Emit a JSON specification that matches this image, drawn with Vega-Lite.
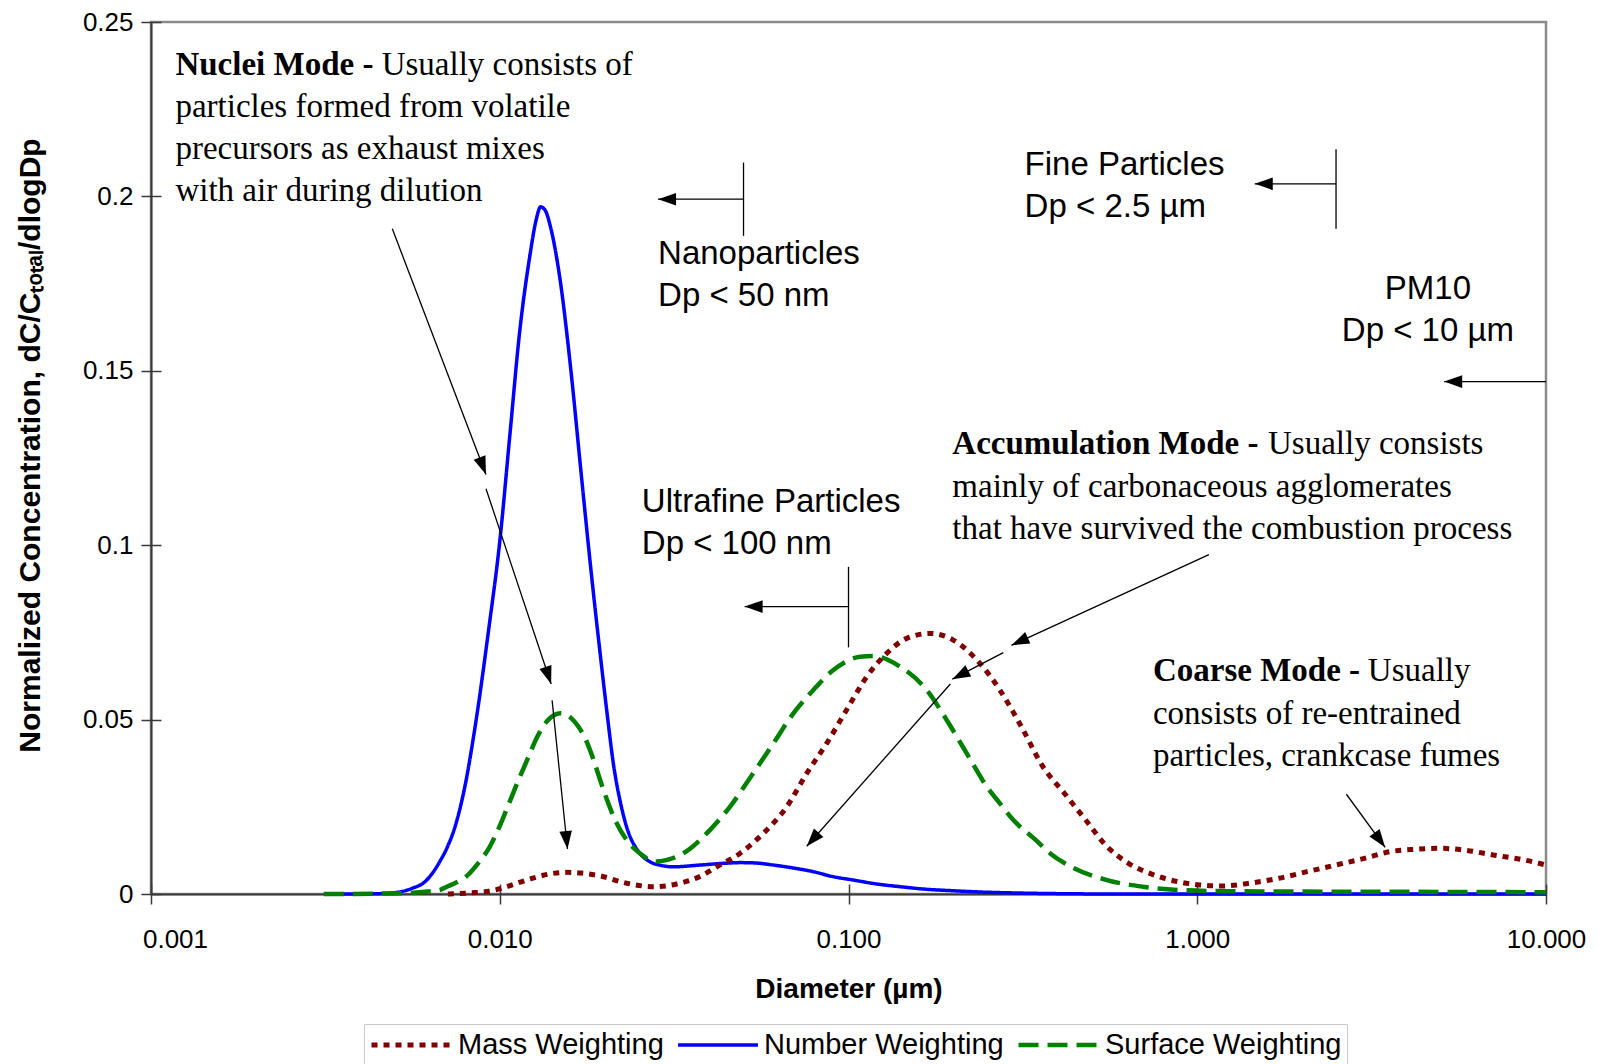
{
  "$schema": "https://vega.github.io/schema/vega-lite/v6.json",
  "width": 1395,
  "height": 872,
  "autosize": {"type": "none"},
  "padding": {"left": 151, "top": 22, "right": 51, "bottom": 170},
  "background": "white",
  "datasets": {
    "curves": [
      {"diameter": 0.00313, "conc": 0, "weighting": "Number Weighting"},
      {"diameter": 0.0045, "conc": 0.0001, "weighting": "Number Weighting"},
      {"diameter": 0.0051, "conc": 0.0005, "weighting": "Number Weighting"},
      {"diameter": 0.0056, "conc": 0.0016, "weighting": "Number Weighting"},
      {"diameter": 0.0061, "conc": 0.0035, "weighting": "Number Weighting"},
      {"diameter": 0.00675, "conc": 0.0095, "weighting": "Number Weighting"},
      {"diameter": 0.0071, "conc": 0.0138, "weighting": "Number Weighting"},
      {"diameter": 0.00746, "conc": 0.0196, "weighting": "Number Weighting"},
      {"diameter": 0.00795, "conc": 0.031, "weighting": "Number Weighting"},
      {"diameter": 0.00847, "conc": 0.047, "weighting": "Number Weighting"},
      {"diameter": 0.0093, "conc": 0.076, "weighting": "Number Weighting"},
      {"diameter": 0.01, "conc": 0.101, "weighting": "Number Weighting"},
      {"diameter": 0.0107, "conc": 0.132, "weighting": "Number Weighting"},
      {"diameter": 0.0114, "conc": 0.161, "weighting": "Number Weighting"},
      {"diameter": 0.0122, "conc": 0.183, "weighting": "Number Weighting"},
      {"diameter": 0.0127, "conc": 0.193, "weighting": "Number Weighting"},
      {"diameter": 0.0131, "conc": 0.197, "weighting": "Number Weighting"},
      {"diameter": 0.0135, "conc": 0.196, "weighting": "Number Weighting"},
      {"diameter": 0.014, "conc": 0.191, "weighting": "Number Weighting"},
      {"diameter": 0.0149, "conc": 0.176, "weighting": "Number Weighting"},
      {"diameter": 0.016, "conc": 0.15, "weighting": "Number Weighting"},
      {"diameter": 0.0171, "conc": 0.121, "weighting": "Number Weighting"},
      {"diameter": 0.0183, "conc": 0.092, "weighting": "Number Weighting"},
      {"diameter": 0.0194, "conc": 0.069, "weighting": "Number Weighting"},
      {"diameter": 0.0203, "conc": 0.052, "weighting": "Number Weighting"},
      {"diameter": 0.0212, "conc": 0.037, "weighting": "Number Weighting"},
      {"diameter": 0.0221, "conc": 0.027, "weighting": "Number Weighting"},
      {"diameter": 0.0231, "conc": 0.0193, "weighting": "Number Weighting"},
      {"diameter": 0.0252, "conc": 0.0117, "weighting": "Number Weighting"},
      {"diameter": 0.027, "conc": 0.0092, "weighting": "Number Weighting"},
      {"diameter": 0.029, "conc": 0.0082, "weighting": "Number Weighting"},
      {"diameter": 0.0315, "conc": 0.0078, "weighting": "Number Weighting"},
      {"diameter": 0.0375, "conc": 0.0083, "weighting": "Number Weighting"},
      {"diameter": 0.044, "conc": 0.0088, "weighting": "Number Weighting"},
      {"diameter": 0.0489, "conc": 0.009, "weighting": "Number Weighting"},
      {"diameter": 0.054, "conc": 0.0089, "weighting": "Number Weighting"},
      {"diameter": 0.0609, "conc": 0.0083, "weighting": "Number Weighting"},
      {"diameter": 0.07, "conc": 0.0074, "weighting": "Number Weighting"},
      {"diameter": 0.0793, "conc": 0.0064, "weighting": "Number Weighting"},
      {"diameter": 0.09, "conc": 0.005, "weighting": "Number Weighting"},
      {"diameter": 0.1032, "conc": 0.004, "weighting": "Number Weighting"},
      {"diameter": 0.12, "conc": 0.0029, "weighting": "Number Weighting"},
      {"diameter": 0.1405, "conc": 0.0021, "weighting": "Number Weighting"},
      {"diameter": 0.165, "conc": 0.0014, "weighting": "Number Weighting"},
      {"diameter": 0.198, "conc": 0.00095, "weighting": "Number Weighting"},
      {"diameter": 0.25, "conc": 0.0005, "weighting": "Number Weighting"},
      {"diameter": 0.3, "conc": 0.0003, "weighting": "Number Weighting"},
      {"diameter": 0.4, "conc": 0.0001, "weighting": "Number Weighting"},
      {"diameter": 0.6, "conc": 0, "weighting": "Number Weighting"},
      {"diameter": 10, "conc": 0, "weighting": "Number Weighting"},

      {"diameter": 0.00313, "conc": 0, "weighting": "Surface Weighting"},
      {"diameter": 0.0045, "conc": 0.0001, "weighting": "Surface Weighting"},
      {"diameter": 0.0055, "conc": 0.0003, "weighting": "Surface Weighting"},
      {"diameter": 0.0062, "conc": 0.0007, "weighting": "Surface Weighting"},
      {"diameter": 0.00675, "conc": 0.0012, "weighting": "Surface Weighting"},
      {"diameter": 0.0071, "conc": 0.0022, "weighting": "Surface Weighting"},
      {"diameter": 0.0075, "conc": 0.0033, "weighting": "Surface Weighting"},
      {"diameter": 0.00805, "conc": 0.0052, "weighting": "Surface Weighting"},
      {"diameter": 0.0087, "conc": 0.009, "weighting": "Surface Weighting"},
      {"diameter": 0.00937, "conc": 0.0136, "weighting": "Surface Weighting"},
      {"diameter": 0.01, "conc": 0.0195, "weighting": "Surface Weighting"},
      {"diameter": 0.01063, "conc": 0.026, "weighting": "Surface Weighting"},
      {"diameter": 0.0113, "conc": 0.0325, "weighting": "Surface Weighting"},
      {"diameter": 0.01205, "conc": 0.039, "weighting": "Surface Weighting"},
      {"diameter": 0.0128, "conc": 0.045, "weighting": "Surface Weighting"},
      {"diameter": 0.01368, "conc": 0.0496, "weighting": "Surface Weighting"},
      {"diameter": 0.01495, "conc": 0.0518, "weighting": "Surface Weighting"},
      {"diameter": 0.016, "conc": 0.0505, "weighting": "Surface Weighting"},
      {"diameter": 0.0168, "conc": 0.048, "weighting": "Surface Weighting"},
      {"diameter": 0.0176, "conc": 0.0445, "weighting": "Surface Weighting"},
      {"diameter": 0.0185, "conc": 0.039, "weighting": "Surface Weighting"},
      {"diameter": 0.0194, "conc": 0.0327, "weighting": "Surface Weighting"},
      {"diameter": 0.0203, "conc": 0.027, "weighting": "Surface Weighting"},
      {"diameter": 0.0212, "conc": 0.0222, "weighting": "Surface Weighting"},
      {"diameter": 0.0231, "conc": 0.0155, "weighting": "Surface Weighting"},
      {"diameter": 0.0252, "conc": 0.0117, "weighting": "Surface Weighting"},
      {"diameter": 0.0279, "conc": 0.0093, "weighting": "Surface Weighting"},
      {"diameter": 0.03, "conc": 0.0097, "weighting": "Surface Weighting"},
      {"diameter": 0.0336, "conc": 0.0117, "weighting": "Surface Weighting"},
      {"diameter": 0.0401, "conc": 0.0184, "weighting": "Surface Weighting"},
      {"diameter": 0.0457, "conc": 0.025, "weighting": "Surface Weighting"},
      {"diameter": 0.0533, "conc": 0.0346, "weighting": "Surface Weighting"},
      {"diameter": 0.0609, "conc": 0.0432, "weighting": "Surface Weighting"},
      {"diameter": 0.0695, "conc": 0.0518, "weighting": "Surface Weighting"},
      {"diameter": 0.0793, "conc": 0.0585, "weighting": "Surface Weighting"},
      {"diameter": 0.0905, "conc": 0.0642, "weighting": "Surface Weighting"},
      {"diameter": 0.108, "conc": 0.068, "weighting": "Surface Weighting"},
      {"diameter": 0.1178, "conc": 0.0682, "weighting": "Surface Weighting"},
      {"diameter": 0.1405, "conc": 0.0652, "weighting": "Surface Weighting"},
      {"diameter": 0.1676, "conc": 0.0585, "weighting": "Surface Weighting"},
      {"diameter": 0.1912, "conc": 0.0499, "weighting": "Surface Weighting"},
      {"diameter": 0.2183, "conc": 0.0403, "weighting": "Surface Weighting"},
      {"diameter": 0.2491, "conc": 0.0308, "weighting": "Surface Weighting"},
      {"diameter": 0.2716, "conc": 0.026, "weighting": "Surface Weighting"},
      {"diameter": 0.297, "conc": 0.0212, "weighting": "Surface Weighting"},
      {"diameter": 0.344, "conc": 0.0155, "weighting": "Surface Weighting"},
      {"diameter": 0.378, "conc": 0.0117, "weighting": "Surface Weighting"},
      {"diameter": 0.4355, "conc": 0.0078, "weighting": "Surface Weighting"},
      {"diameter": 0.551, "conc": 0.004, "weighting": "Surface Weighting"},
      {"diameter": 0.698, "conc": 0.0021, "weighting": "Surface Weighting"},
      {"diameter": 0.884, "conc": 0.00115, "weighting": "Surface Weighting"},
      {"diameter": 1.2, "conc": 0.0008, "weighting": "Surface Weighting"},
      {"diameter": 2.0, "conc": 0.0007, "weighting": "Surface Weighting"},
      {"diameter": 5.0, "conc": 0.0006, "weighting": "Surface Weighting"},
      {"diameter": 10, "conc": 0.0005, "weighting": "Surface Weighting"},

      {"diameter": 0.0071, "conc": 0, "weighting": "Mass Weighting"},
      {"diameter": 0.0085, "conc": 0.0004, "weighting": "Mass Weighting"},
      {"diameter": 0.0093, "conc": 0.0008, "weighting": "Mass Weighting"},
      {"diameter": 0.01, "conc": 0.0015, "weighting": "Mass Weighting"},
      {"diameter": 0.0107, "conc": 0.0024, "weighting": "Mass Weighting"},
      {"diameter": 0.0122, "conc": 0.0043, "weighting": "Mass Weighting"},
      {"diameter": 0.014, "conc": 0.0058, "weighting": "Mass Weighting"},
      {"diameter": 0.0156, "conc": 0.0062, "weighting": "Mass Weighting"},
      {"diameter": 0.0171, "conc": 0.006, "weighting": "Mass Weighting"},
      {"diameter": 0.0194, "conc": 0.0052, "weighting": "Mass Weighting"},
      {"diameter": 0.0231, "conc": 0.0031, "weighting": "Mass Weighting"},
      {"diameter": 0.0276, "conc": 0.0021, "weighting": "Mass Weighting"},
      {"diameter": 0.0329, "conc": 0.0031, "weighting": "Mass Weighting"},
      {"diameter": 0.0375, "conc": 0.005, "weighting": "Mass Weighting"},
      {"diameter": 0.0419, "conc": 0.0078, "weighting": "Mass Weighting"},
      {"diameter": 0.0489, "conc": 0.0117, "weighting": "Mass Weighting"},
      {"diameter": 0.057, "conc": 0.0174, "weighting": "Mass Weighting"},
      {"diameter": 0.0665, "conc": 0.025, "weighting": "Mass Weighting"},
      {"diameter": 0.0759, "conc": 0.0346, "weighting": "Mass Weighting"},
      {"diameter": 0.0866, "conc": 0.0432, "weighting": "Mass Weighting"},
      {"diameter": 0.0988, "conc": 0.0528, "weighting": "Mass Weighting"},
      {"diameter": 0.1128, "conc": 0.0623, "weighting": "Mass Weighting"},
      {"diameter": 0.1287, "conc": 0.069, "weighting": "Mass Weighting"},
      {"diameter": 0.1469, "conc": 0.0733, "weighting": "Mass Weighting"},
      {"diameter": 0.1713, "conc": 0.0747, "weighting": "Mass Weighting"},
      {"diameter": 0.1998, "conc": 0.0728, "weighting": "Mass Weighting"},
      {"diameter": 0.2383, "conc": 0.0661, "weighting": "Mass Weighting"},
      {"diameter": 0.2716, "conc": 0.0585, "weighting": "Mass Weighting"},
      {"diameter": 0.313, "conc": 0.048, "weighting": "Mass Weighting"},
      {"diameter": 0.361, "conc": 0.0365, "weighting": "Mass Weighting"},
      {"diameter": 0.4157, "conc": 0.0289, "weighting": "Mass Weighting"},
      {"diameter": 0.4787, "conc": 0.0212, "weighting": "Mass Weighting"},
      {"diameter": 0.551, "conc": 0.0136, "weighting": "Mass Weighting"},
      {"diameter": 0.635, "conc": 0.0088, "weighting": "Mass Weighting"},
      {"diameter": 0.7497, "conc": 0.0055, "weighting": "Mass Weighting"},
      {"diameter": 0.884, "conc": 0.0035, "weighting": "Mass Weighting"},
      {"diameter": 1.018, "conc": 0.0026, "weighting": "Mass Weighting"},
      {"diameter": 1.172, "conc": 0.0023, "weighting": "Mass Weighting"},
      {"diameter": 1.416, "conc": 0.0031, "weighting": "Mass Weighting"},
      {"diameter": 1.711, "conc": 0.0045, "weighting": "Mass Weighting"},
      {"diameter": 2.065, "conc": 0.0064, "weighting": "Mass Weighting"},
      {"diameter": 2.494, "conc": 0.0083, "weighting": "Mass Weighting"},
      {"diameter": 3.013, "conc": 0.0102, "weighting": "Mass Weighting"},
      {"diameter": 3.554, "conc": 0.0121, "weighting": "Mass Weighting"},
      {"diameter": 4.19, "conc": 0.0128, "weighting": "Mass Weighting"},
      {"diameter": 4.94, "conc": 0.0131, "weighting": "Mass Weighting"},
      {"diameter": 5.83, "conc": 0.0126, "weighting": "Mass Weighting"},
      {"diameter": 7.05, "conc": 0.0112, "weighting": "Mass Weighting"},
      {"diameter": 8.73, "conc": 0.0097, "weighting": "Mass Weighting"},
      {"diameter": 10, "conc": 0.0083, "weighting": "Mass Weighting"}
    ],
    "notes": [
      {"kind": "modeTitle", "text": "Nuclei Mode -", "x": 0.001175, "y": 0.2348},
      {"kind": "modeText", "text": "Usually consists of", "x": 0.004585, "y": 0.2348},
      {"kind": "modeText", "text": "particles formed from volatile\nprecursors as exhaust mixes\nwith air during dilution", "x": 0.001175, "y": 0.2228},
      {"kind": "modeTitle", "text": "Accumulation Mode -", "x": 0.1985, "y": 0.1262},
      {"kind": "modeText", "text": "Usually consists", "x": 1.5955, "y": 0.1262},
      {"kind": "modeText", "text": "mainly of carbonaceous agglomerates\nthat have survived the combustion process", "x": 0.1985, "y": 0.1139},
      {"kind": "modeTitle", "text": "Coarse Mode -", "x": 0.7464, "y": 0.061},
      {"kind": "modeText", "text": "Usually", "x": 3.084, "y": 0.061},
      {"kind": "modeText", "text": "consists of re-entrained\nparticles, crankcase fumes", "x": 0.7464, "y": 0.0488},
      {"kind": "sizeClass", "text": "Nanoparticles\nDp < 50 nm", "x": 0.02844, "y": 0.1805},
      {"kind": "sizeClass", "text": "Fine Particles\nDp < 2.5 µm", "x": 0.3199, "y": 0.2062},
      {"kind": "sizeClassCentered", "text": "PM10\nDp < 10 µm", "x": 4.585, "y": 0.1706},
      {"kind": "sizeClass", "text": "Ultrafine Particles\nDp < 100 nm", "x": 0.02555, "y": 0.1095}
    ],
    "segments": [
      {"x": 0.05, "y": 0.1992, "x2": 0.02844, "y2": 0.1992, "head": true},
      {"x": 0.05, "y": 0.2097, "x2": 0.05, "y2": 0.1887, "head": false},
      {"x": 2.5, "y": 0.2036, "x2": 1.462, "y2": 0.2036, "head": true},
      {"x": 2.5, "y": 0.2135, "x2": 2.5, "y2": 0.1907, "head": false},
      {"x": 10, "y": 0.1469, "x2": 5.105, "y2": 0.1469, "head": true},
      {"x": 0.1, "y": 0.0824, "x2": 0.05037, "y2": 0.0824, "head": true},
      {"x": 0.1, "y": 0.0938, "x2": 0.1, "y2": 0.0707, "head": false},
      {"x": 0.00492, "y": 0.1907, "x2": 0.00913, "y2": 0.1203, "head": true},
      {"x": 0.00913, "y": 0.1162, "x2": 0.01404, "y2": 0.0602, "head": true},
      {"x": 0.01413, "y": 0.0555, "x2": 0.01564, "y2": 0.0129, "head": true},
      {"x": 1.08, "y": 0.0973, "x2": 0.2932, "y2": 0.0713, "head": true},
      {"x": 0.2779, "y": 0.0692, "x2": 0.1985, "y2": 0.0616, "head": true},
      {"x": 0.1959, "y": 0.0602, "x2": 0.0759, "y2": 0.0137, "head": true},
      {"x": 2.677, "y": 0.0286, "x2": 3.457, "y2": 0.0134, "head": true}
    ]
  },
  "layer": [
    {
      "data": {"name": "curves"},
      "mark": {"type": "line", "interpolate": "monotone"},
      "encoding": {
        "x": {
          "field": "diameter",
          "type": "quantitative",
          "scale": {"type": "log", "domain": [0.001, 10], "nice": false},
          "axis": {
            "values": [0.001, 0.01, 0.1, 1, 10],
            "format": ".3f",
            "title": "Diameter (µm)",
            "titleFontSize": 28,
            "titleFontWeight": "bold",
            "titleBaseline": "alphabetic",
            "titleY": 103,
            "labelFontSize": 26,
            "labelPadding": 22,
            "labelOverlap": false,
            "labelFlush": false,
            "labelOffset": {"condition": {"test": "datum.value < 0.002", "value": 24}, "value": 0},
            "tickSize": 10
          }
        },
        "y": {
          "field": "conc",
          "type": "quantitative",
          "scale": {"domain": [0, 0.25], "nice": false, "zero": false},
          "axis": {
            "values": [0, 0.05, 0.1, 0.15, 0.2, 0.25],
            "format": "~g",
            "title": "Normalized Concentration, dC/Cₜₒₜₐₗ/dlogDp",
            "titleFontSize": 30,
            "titleFontWeight": "bold",
            "titleAngle": 270,
            "titleAlign": "center",
            "titleBaseline": "bottom",
            "titleX": -106,
            "titleY": 423,
            "labelFontSize": 26,
            "labelPadding": 8,
            "labelOverlap": false,
            "tickSize": 10
          }
        },
        "color": {
          "field": "weighting",
          "type": "nominal",
          "scale": {
            "domain": ["Mass Weighting", "Number Weighting", "Surface Weighting"],
            "range": ["#800000", "#0000ff", "#008000"]
          },
          "legend": {"title": null}
        },
        "strokeDash": {
          "field": "weighting",
          "type": "nominal",
          "scale": {
            "domain": ["Mass Weighting", "Number Weighting", "Surface Weighting"],
            "range": [[6, 6], [1, 0], [20, 9]]
          },
          "legend": {"title": null}
        },
        "strokeWidth": {
          "field": "weighting",
          "type": "nominal",
          "scale": {
            "type": "ordinal",
            "domain": ["Mass Weighting", "Number Weighting", "Surface Weighting"],
            "range": [5, 3.5, 4.5]
          },
          "legend": {"title": null}
        }
      }
    },
    {
      "data": {"name": "segments"},
      "mark": {"type": "rule", "color": "black", "strokeWidth": 1.3},
      "encoding": {
        "x": {
          "field": "x",
          "type": "quantitative",
          "scale": {"type": "log", "domain": [0.001, 10], "nice": false},
          "axis": {
            "orient": "bottom",
            "offset": -10,
            "values": [0.001, 0.01, 0.1, 1, 10],
            "labels": false,
            "domain": false,
            "title": null,
            "tickSize": 10
          }
        },
        "y": {
          "field": "y",
          "type": "quantitative",
          "scale": {"domain": [0, 0.25], "nice": false, "zero": false},
          "axis": {
            "orient": "left",
            "offset": -10,
            "values": [0, 0.05, 0.1, 0.15, 0.2, 0.25],
            "labels": false,
            "domain": false,
            "title": null,
            "tickSize": 10
          }
        },
        "x2": {"field": "x2"},
        "y2": {"field": "y2"}
      }
    },
    {
      "data": {"name": "segments"},
      "transform": [{"filter": "datum.head"}],
      "mark": {
        "type": "point",
        "shape": "M0,0L-0.7,2L0.7,2Z",
        "size": 324,
        "filled": true,
        "color": "black",
        "opacity": 1,
        "strokeWidth": 0,
        "angle": {"expr": "atan2(scale('x', datum.x2) - scale('x', datum.x), scale('y', datum.y) - scale('y', datum.y2)) * 180 / PI"}
      },
      "encoding": {
        "x": {"field": "x2", "type": "quantitative", "scale": {"type": "log", "domain": [0.001, 10], "nice": false}, "axis": null},
        "y": {"field": "y2", "type": "quantitative", "scale": {"domain": [0, 0.25], "nice": false, "zero": false}, "axis": null}
      }
    },
    {
      "data": {"name": "notes"},
      "transform": [{"filter": "datum.kind === 'modeTitle'"}],
      "mark": {"type": "text", "align": "left", "baseline": "alphabetic", "font": "Liberation Serif", "fontSize": 33, "fontWeight": "bold", "color": "black"},
      "encoding": {
        "x": {"field": "x", "type": "quantitative", "scale": {"type": "log", "domain": [0.001, 10], "nice": false}, "axis": null},
        "y": {"field": "y", "type": "quantitative", "scale": {"domain": [0, 0.25], "nice": false, "zero": false}, "axis": null},
        "text": {"field": "text"}
      }
    },
    {
      "data": {"name": "notes"},
      "transform": [{"filter": "datum.kind === 'modeText'"}],
      "mark": {"type": "text", "align": "left", "baseline": "alphabetic", "font": "Liberation Serif", "fontSize": 33, "lineBreak": "\n", "lineHeight": 42, "color": "black"},
      "encoding": {
        "x": {"field": "x", "type": "quantitative", "scale": {"type": "log", "domain": [0.001, 10], "nice": false}, "axis": null},
        "y": {"field": "y", "type": "quantitative", "scale": {"domain": [0, 0.25], "nice": false, "zero": false}, "axis": null},
        "text": {"field": "text"}
      }
    },
    {
      "data": {"name": "notes"},
      "transform": [{"filter": "datum.kind === 'sizeClass'"}],
      "mark": {"type": "text", "align": "left", "baseline": "alphabetic", "font": "Liberation Sans", "fontSize": 33, "lineBreak": "\n", "lineHeight": 42, "color": "black"},
      "encoding": {
        "x": {"field": "x", "type": "quantitative", "scale": {"type": "log", "domain": [0.001, 10], "nice": false}, "axis": null},
        "y": {"field": "y", "type": "quantitative", "scale": {"domain": [0, 0.25], "nice": false, "zero": false}, "axis": null},
        "text": {"field": "text"}
      }
    },
    {
      "data": {"name": "notes"},
      "transform": [{"filter": "datum.kind === 'sizeClassCentered'"}],
      "mark": {"type": "text", "align": "center", "baseline": "alphabetic", "font": "Liberation Sans", "fontSize": 33, "lineBreak": "\n", "lineHeight": 42, "color": "black"},
      "encoding": {
        "x": {"field": "x", "type": "quantitative", "scale": {"type": "log", "domain": [0.001, 10], "nice": false}, "axis": null},
        "y": {"field": "y", "type": "quantitative", "scale": {"domain": [0, 0.25], "nice": false, "zero": false}, "axis": null},
        "text": {"field": "text"}
      }
    }
  ],
  "resolve": {"axis": {"x": "independent", "y": "independent"}},
  "config": {
    "font": "Liberation Sans",
    "view": {"stroke": "#8a8a8a", "strokeWidth": 2.5},
    "axis": {
      "grid": false,
      "labelFont": "Liberation Sans",
      "titleFont": "Liberation Sans",
      "labelColor": "#000000",
      "titleColor": "#000000",
      "domainColor": "#3a3a3a",
      "domainWidth": 2,
      "tickColor": "#3a3a3a",
      "tickWidth": 1.5
    },
    "legend": {
      "orient": "none",
      "legendX": 213,
      "legendY": 1002,
      "direction": "horizontal",
      "symbolType": "stroke",
      "symbolSize": 6400,
      "clipHeight": 32,
      "labelFont": "Liberation Sans",
      "labelFontSize": 29,
      "labelColor": "#000000",
      "labelOffset": 4,
      "labelLimit": 400,
      "columnPadding": 12,
      "padding": 5,
      "strokeColor": "#c8c8c8",
      "strokeWidth": 1,
      "fillColor": "white"
    }
  }
}
